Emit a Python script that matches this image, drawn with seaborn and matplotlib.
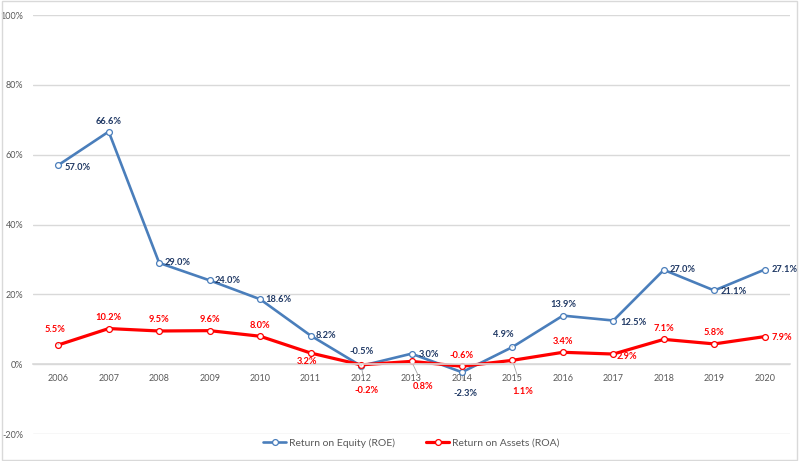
import matplotlib
matplotlib.use("Agg")
import matplotlib.pyplot as plt
import seaborn as sns
import pandas as pd
from matplotlib.patches import Rectangle

years = ["2006", "2007", "2008", "2009", "2010", "2011", "2012", "2013",
         "2014", "2015", "2016", "2017", "2018", "2019", "2020"]
roe = [57.0, 66.6, 29.0, 24.0, 18.6, 8.2, -0.5, 3.0, -2.3, 4.9, 13.9, 12.5, 27.0, 21.1, 27.1]
roa = [5.5, 10.2, 9.5, 9.6, 8.0, 3.2, -0.2, 0.8, -0.6, 1.1, 3.4, 2.9, 7.1, 5.8, 7.9]
y_ticks = [-20, 0, 20, 40, 60, 80, 100]
series_names = ["Return on Equity (ROE)", "Return on Assets (ROA)"]

# label offsets in pixels (dx, dy, ha, leader)
roe_off = [(6, -2, "left", False), (0, 10, "center", False), (5, 0, "left", False),
           (5, 0, "left", False), (5, 0, "left", False), (5, 0, "left", False),
           (1, 14, "center", True), (7, -1, "left", False), (4, -21, "center", True),
           (-9, 13, "center", True), (0, 11, "center", False), (7, -2, "left", False),
           (6, 0, "left", False), (6, -1, "left", False), (7, 0, "left", False)]
roa_off = [(-3, 15, "center", True), (0, 11, "center", False), (0, 11, "center", False),
           (0, 11, "center", False), (0, 11, "center", False), (-4, -9, "center", False),
           (5, -26, "center", True), (12, -25, "center", True), (0, 11, "center", False),
           (10, -31, "center", True), (0, 11, "center", False), (3, -2, "left", False),
           (0, 11, "center", False), (0, 11, "center", False), (7, -1, "left", False)]

sns.set_theme(style="white")
plt.rcParams["font.family"] = ["Lato", "DejaVu Sans"]

df = pd.DataFrame({
    "Year": years * 2,
    "Value": roe + roa,
    "Series": [series_names[0]] * len(years) + [series_names[1]] * len(years),
})

fig = plt.figure(figsize=(8, 4.61), dpi=100)
ax = fig.add_axes([33 / 800, 1 - 434 / 461, 757 / 800, 419 / 461])

blue = "#4A7EBB"
red = "#FF0000"
navy = "#1F3864"

sns.lineplot(data=df[df.Series == series_names[0]], x="Year", y="Value", ax=ax,
             color=blue, lw=1.9, marker="o", markersize=4.2, markerfacecolor="white",
             markeredgecolor=blue, markeredgewidth=0.9, label=series_names[0])
sns.lineplot(data=df[df.Series == series_names[1]], x="Year", y="Value", ax=ax,
             color=red, lw=2.3, marker="o", markersize=4.2, markerfacecolor="white",
             markeredgecolor=red, markeredgewidth=0.9, label=series_names[1])

ax.set_xlim(-0.5, len(years) - 0.5)
ax.set_ylim(-20, 100)
ax.set_yticks(y_ticks)
ax.set_yticklabels([f"{t}%" for t in y_ticks])
ax.yaxis.grid(True, color="#D9D9D9", lw=1)
ax.xaxis.grid(False)
for s in ax.spines.values():
    s.set_visible(False)
ax.spines["bottom"].set_position(("data", 0))
ax.spines["bottom"].set_visible(True)
ax.spines["bottom"].set_color("#D9D9D9")
ax.spines["bottom"].set_linewidth(1.2)
ax.tick_params(axis="x", length=0, pad=7, labelsize=6.5, labelcolor="#595959")
ax.tick_params(axis="y", length=0, pad=7, labelsize=6.5, labelcolor="#595959")
ax.set_xlabel("")
ax.set_ylabel("")

k = 72 / 100
def label(vals, offs, color):
    for i, (v, (dx, dy, ha, lead)) in enumerate(zip(vals, offs)):
        ap = dict(arrowstyle="-", color="#A6A6A6", lw=0.6, shrinkA=4, shrinkB=3) if lead else None
        ax.annotate(f"{v:.1f}%", (i, v), xytext=(dx * k, dy * k), textcoords="offset points",
                    ha=ha, va="center", fontsize=6.7, fontweight="bold", color=color,
                    arrowprops=ap)

label(roe, roe_off, navy)
label(roa, roa_off, red)

leg = ax.legend(loc="center", bbox_to_anchor=(0.5, -0.022), ncol=2, frameon=False,
                fontsize=7.5, handlelength=2.2, columnspacing=3, handletextpad=0.3)
for t in leg.get_texts():
    t.set_color("#595959")

fig.patches.append(Rectangle((0.002, 0.003), 0.994, 0.994, transform=fig.transFigure,
                             fill=False, edgecolor="#D9D9D9", lw=1))

fig.savefig("out.png", dpi=100)
